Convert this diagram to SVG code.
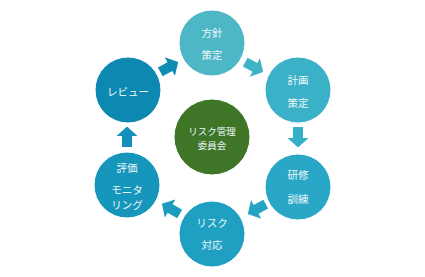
<svg xmlns="http://www.w3.org/2000/svg" width="425" height="277" viewBox="0 0 425 277">
<defs>
<style>
.node circle{stroke:#ffffff;stroke-width:1}
.node text{font-family:"Noto Sans CJK JP","Noto Sans",sans-serif;font-size:10.5px;fill:#eaf6f9;text-anchor:middle;dominant-baseline:central}
.node text.sm{font-size:9.5px}
</style>
<path id="arrow" d="M-10,-5 L1,-5 L1,-10.5 L10.5,0 L1,10.5 L1,5 L-10,5 Z"/>
</defs>
<rect width="425" height="277" fill="#ffffff"/>
<g id="connectors">
<use href="#arrow" fill="#3fb2c6" transform="translate(254,67) rotate(29)"/>
<use href="#arrow" fill="#36afc9" transform="translate(298,137) rotate(90)"/>
<use href="#arrow" fill="#25a3c4" transform="translate(257,209) rotate(151)"/>
<use href="#arrow" fill="#1c9bbf" transform="translate(171,209) rotate(210)"/>
<use href="#arrow" fill="#1390b9" transform="translate(127,137) rotate(-90)"/>
<use href="#arrow" fill="#0f8bb4" transform="translate(169,67) rotate(-29)"/>
</g>
<g id="n-houshin" class="node">
<circle cx="212" cy="43" r="33" fill="#4db7c6"/>
<text x="212" y="32">方針</text>
<text x="212" y="54">策定</text>
</g>
<g id="n-keikaku" class="node">
<circle cx="298" cy="90" r="33" fill="#3bb1c8"/>
<text x="298" y="79">計画</text>
<text x="298" y="102">策定</text>
</g>
<g id="n-kenshu" class="node">
<circle cx="298" cy="187" r="33" fill="#29a7c6"/>
<text x="298" y="174">研修</text>
<text x="298" y="198">訓練</text>
</g>
<g id="n-taiou" class="node">
<circle cx="212" cy="234" r="33" fill="#1f9fc1"/>
<text x="212" y="222">リスク</text>
<text x="212" y="244">対応</text>
</g>
<g id="n-hyouka" class="node">
<circle cx="127" cy="185" r="33" fill="#1796bc"/>
<text x="127" y="167">評価</text>
<text x="127" y="189">モニタ</text>
<text x="127" y="204">リング</text>
</g>
<g id="n-review" class="node">
<circle cx="128" cy="90" r="33" fill="#0d88b1"/>
<text x="128" y="91">レビュー</text>
</g>
<g id="n-center" class="node">
<circle cx="212" cy="137" r="38" fill="#3e7527"/>
<text class="sm" x="212" y="131">リスク管理</text>
<text class="sm" x="212" y="145">委員会</text>
</g>
</svg>
